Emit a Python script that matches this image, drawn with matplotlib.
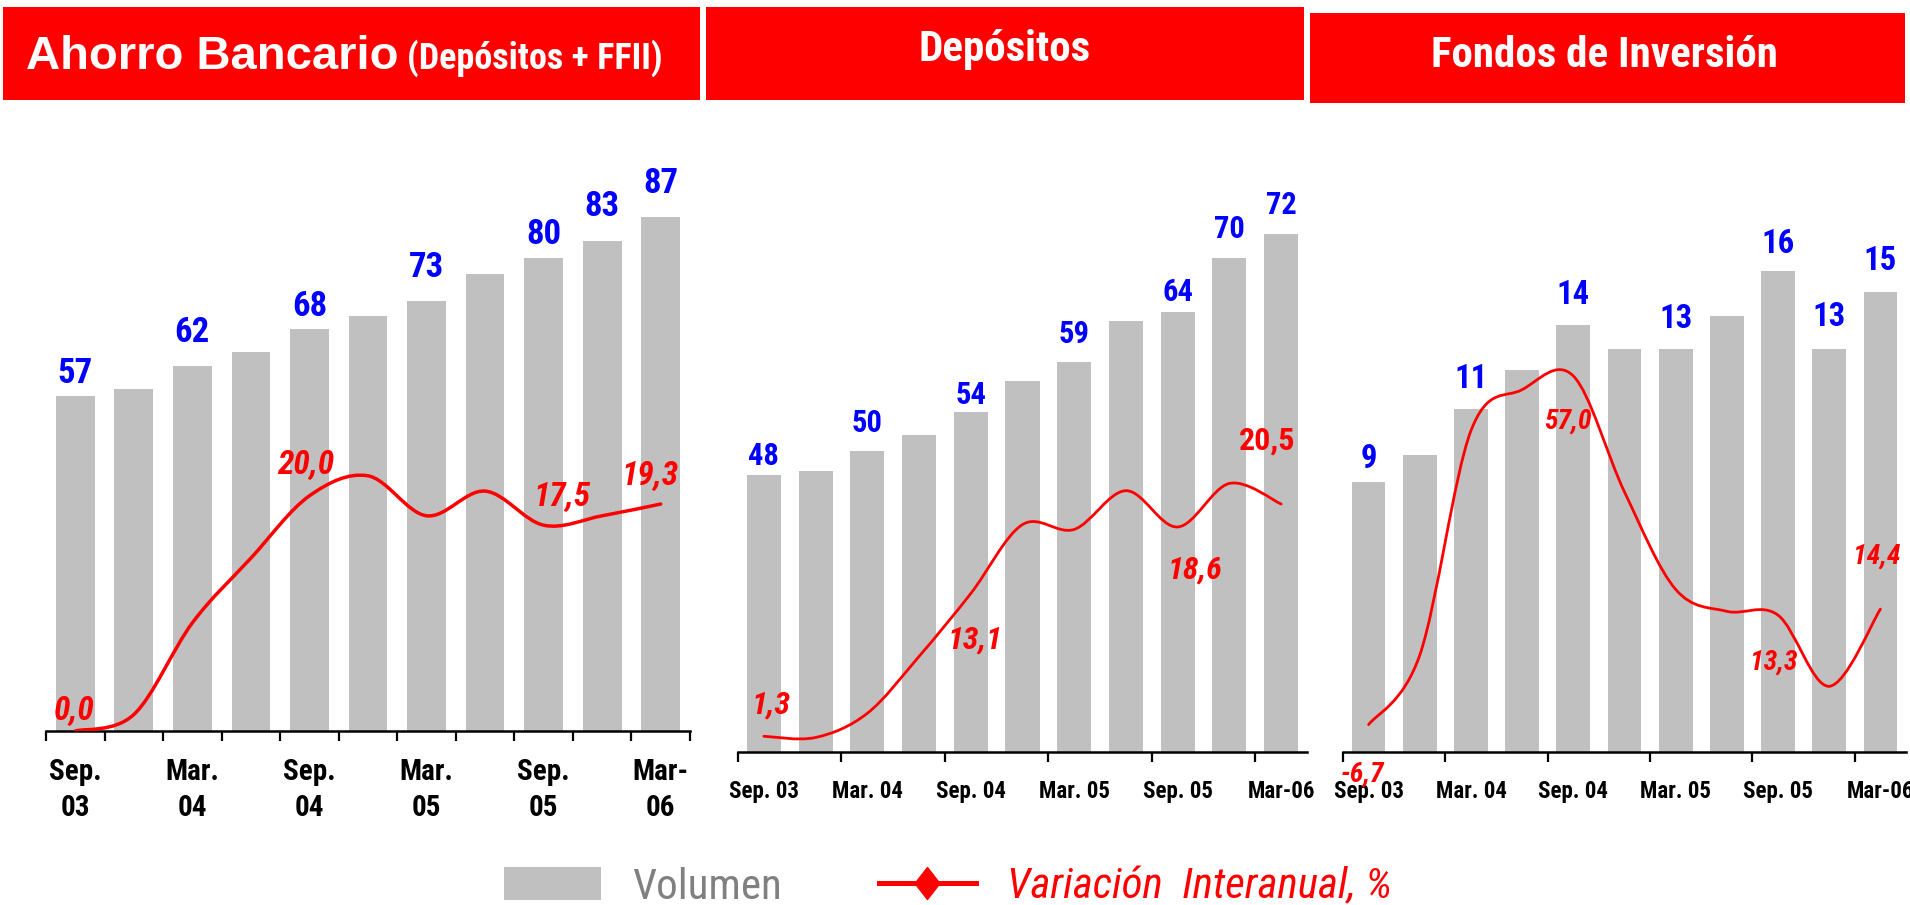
import numpy as np
import matplotlib
matplotlib.use("Agg")
import matplotlib.pyplot as plt
from matplotlib import font_manager
from matplotlib.path import Path
from matplotlib.patches import PathPatch, Patch, Rectangle
from matplotlib.lines import Line2D

names = {f.name for f in font_manager.fontManager.ttflist}
NARROW = "Roboto Condensed" if "Roboto Condensed" in names else "Liberation Sans"

# --- data (11 quarters Sep.03 .. Mar.06) ---
quarters = ["Sep. 03", "Dic. 03", "Mar. 04", "Jun. 04", "Sep. 04", "Dic. 04",
            "Mar. 05", "Jun. 05", "Sep. 05", "Dic. 05", "Mar. 06"]
ticks_ahorro = ["Sep.\n03", "Mar.\n04", "Sep.\n04", "Mar.\n05", "Sep.\n05", "Mar-\n06"]
ticks_other = ["Sep. 03", "Mar. 04", "Sep. 04", "Mar. 05", "Sep. 05", "Mar-06"]

ahorro_vol = [57.0, 58.2, 62.1, 64.5, 68.4, 70.6, 73.2, 77.8, 80.4, 83.4, 87.4]
ahorro_var = [0.0, 1.4, 9.2, 14.7, 20.0, 21.7, 18.3, 20.4, 17.5, 18.3, 19.3]

depo_vol = [48.0, 48.4, 50.4, 52.0, 54.3, 57.5, 59.4, 63.5, 64.4, 69.9, 72.3]
depo_var = [1.3, 1.2, 3.2, 7.9, 13.1, 18.8, 18.4, 21.6, 18.6, 22.2, 20.5]

fondos_vol = [9.0, 9.9, 11.4, 12.7, 14.2, 13.4, 13.4, 14.5, 16.0, 13.4, 15.3]
fondos_var = [-6.7, 6.0, 47.0, 54.5, 57.0, 35.8, 18.0, 14.0, 13.3, 0.3, 14.4]

vol_labeled = [0, 2, 4, 6, 8, 9, 10]
var_labeled = [0, 4, 8, 10]

GRAY = "#C0C0C0"
BLUE = "#0000FF"
RED = "#FF0000"

W, H = 1910, 905
fig = plt.figure(figsize=(W / 100, H / 100), dpi=100)
fig.patch.set_facecolor("white")


def px_axes(x0, x1, base, top):
    return fig.add_axes([x0 / W, 1 - base / H, (x1 - x0) / W, (base - top) / H])


def smooth_path(xs, ys):
    # Excel-like smoothed line: Catmull-Rom segments as cubic Beziers
    pts = np.column_stack([xs, ys]).astype(float)
    ext = np.vstack([pts[0], pts, pts[-1]])
    verts = [pts[0]]
    codes = [Path.MOVETO]
    for i in range(len(pts) - 1):
        p0, p1, p2, p3 = ext[i], ext[i + 1], ext[i + 2], ext[i + 3]
        verts += [p1 + (p2 - p0) / 6, p2 - (p3 - p1) / 6, p2]
        codes += [Path.CURVE4] * 3
    return Path(verts, codes)


def fmt(v):
    return f"{v:.1f}".replace(".", ",")


def panel(box, vol, var, ylim, ylim2, tick_labels, tick_size, tick_pad, all_ticks,
          vol_size, vol_gaps, var_size, var_offsets, var_upright, line_w):
    ax = px_axes(*box)
    x = np.arange(len(vol))
    ax.bar(x, vol, width=0.66, color=GRAY, zorder=1)
    ax.set_xlim(-0.5, len(vol) - 0.5)
    ax.set_ylim(*ylim)
    for s in ["top", "left", "right"]:
        ax.spines[s].set_visible(False)
    ax.spines["bottom"].set_linewidth(1.8)
    ax.set_yticks([])
    if all_ticks:
        major = np.arange(-0.5, len(vol), 1.0)
    else:
        major = np.arange(-0.5, len(vol) - 1, 2.0)
    ax.set_xticks(major)
    ax.set_xticklabels([])
    ax.tick_params(axis="x", which="major", direction="out", length=7, width=1.6, color="black")
    ax.set_xticks(np.arange(0, len(vol), 2), minor=True)
    ax.set_xticklabels(tick_labels, minor=True, fontsize=tick_size, fontweight="bold",
                       family=NARROW, linespacing=1.38)
    ax.tick_params(axis="x", which="minor", length=0, pad=tick_pad)

    for i, g in zip(vol_labeled, vol_gaps):
        ax.annotate(f"{round(vol[i])}", (x[i], vol[i]), xytext=(0, g), textcoords="offset pixels",
                    ha="center", va="baseline", color=BLUE, fontsize=vol_size,
                    fontweight="bold", family=NARROW, annotation_clip=False)

    ax2 = ax.twinx()
    ax2.set_ylim(*ylim2)
    ax2.set_yticks([])
    for s in ax2.spines.values():
        s.set_visible(False)
    ax2.add_patch(PathPatch(smooth_path(x, var), facecolor="none", edgecolor=RED,
                            lw=line_w, capstyle="round", joinstyle="round", zorder=3))
    for i, (dx, dy) in zip(var_labeled, var_offsets):
        style = "normal" if (var_upright and i == var_labeled[-1]) else "italic"
        ax2.annotate(fmt(var[i]), (x[i], var[i]), xytext=(dx, dy), textcoords="offset pixels",
                     ha="center", va="center_baseline", color=RED, fontsize=var_size,
                     fontweight="bold", fontstyle=style, family=NARROW, annotation_clip=False)
    return ax, ax2


panel((46, 690, 731, 143), ahorro_vol, ahorro_var, (0, 100), (0, 50),
      ticks_ahorro, 21, 19.5, True,
      25, [13, 24, 13, 24, 14, 25, 24],
      24, [(-1, 23), (-4, 34), (18, 32), (-11, 32)], False, 2.5)

panel((738, 1307, 752, 158), depo_vol, depo_var, (20, 80), (0, 49.1),
      ticks_other, 16.5, 20, False,
      22, [10, 19, 8, 19, 11, 20, 20],
      23, [(7, 34), (4, -44), (17, -40), (-14, 66)], True, 2.0)

panel((1343, 1906, 752, 151), fondos_vol, fondos_var, (0, 20), (-11.7, 98.1),
      ticks_other, 16.5, 20, False,
      23.5, [14, 21, 21, 21, 18, 23, 22],
      20, [(-6, -47), (-5, -42), (-4, -44), (-4, 56)], False, 2.0)

# --- red headers ---
for (x0, x1, y0, y1) in [(3, 700, 7, 100), (706, 1304, 7, 100), (1310, 1905, 13, 103)]:
    fig.patches.append(Rectangle((x0 / W, 1 - y1 / H), (x1 - x0) / W, (y1 - y0) / H,
                                 transform=fig.transFigure, facecolor=RED, edgecolor="none"))

fig.text(26 / W, 1 - 69 / H, "Ahorro Bancario", color="white", fontsize=34, fontweight="bold",
         family="Liberation Sans", ha="left", va="baseline")
fig.text(407 / W, 1 - 69 / H, "(Depósitos + FFII)", color="white", fontsize=26, fontweight="bold",
         family=NARROW, ha="left", va="baseline")
fig.text(1005 / W, 1 - 61 / H, "Depósitos", color="white", fontsize=31, fontweight="bold",
         family=NARROW, ha="center", va="baseline")
fig.text(1604 / W, 1 - 67 / H, "Fondos de Inversión", color="white", fontsize=31, fontweight="bold",
         family=NARROW, ha="center", va="baseline")

# --- legend ---
diamond = [(-0.39, 0), (0, 0.5), (0.39, 0), (0, -0.5), (-0.39, 0)]
handles = [Patch(facecolor=GRAY, edgecolor="none"),
           Line2D([], [], color=RED, lw=3.6, marker=diamond, markersize=23,
                  markerfacecolor=RED, markeredgecolor=RED)]
leg = fig.legend(handles, ["Volumen", "Variación  Interanual, %"], loc="center left",
                 bbox_to_anchor=(504 / W, 1 - 887 / H), ncol=2, frameon=False,
                 prop={"family": NARROW, "size": 31}, handlelength=2.25, handleheight=0.77,
                 handletextpad=0.72, columnspacing=2.26, borderpad=0, borderaxespad=0,
                 numpoints=1)
txts = leg.get_texts()
txts[0].set_color("#808080")
txts[1].set_color(RED)
txts[1].set_fontstyle("italic")

fig.savefig("out.png", dpi=100, facecolor="white")
